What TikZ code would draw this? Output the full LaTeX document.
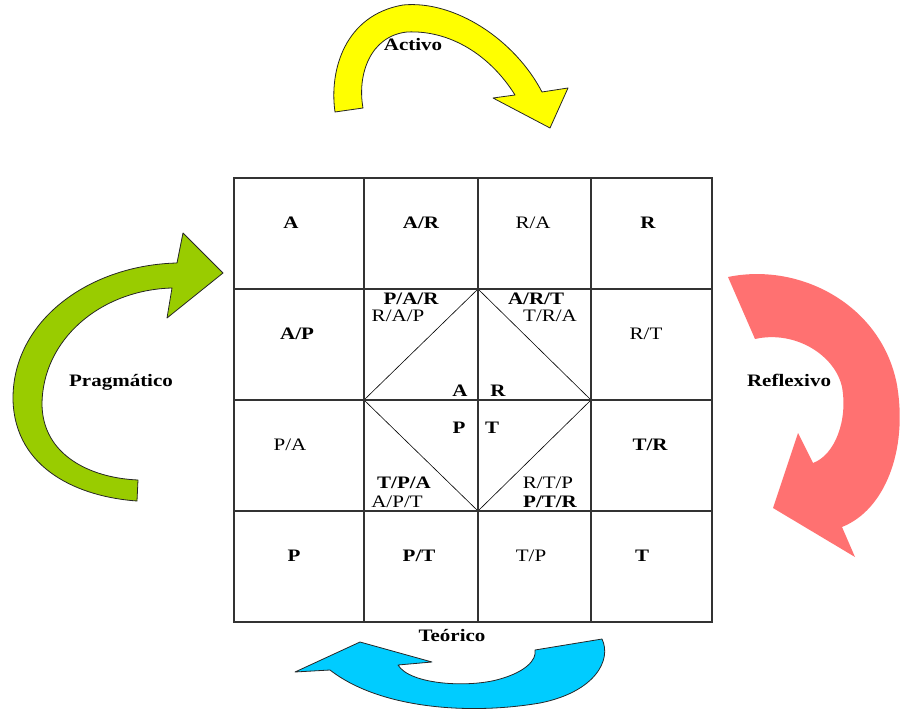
\documentclass[tikz,border=0pt]{standalone}
\usepackage{fontspec}
\setmainfont[FakeStretch=1.2]{Liberation Serif}
\tikzset{
  lbl/.style={font=\fontsize{17.5}{20}\selectfont, inner sep=0pt},
  blbl/.style={lbl, font=\fontsize{17.5}{20}\selectfont\bfseries},
  gridline/.style={draw=black!80, line width=1.1pt},
  diag/.style={draw=black, line width=0.6pt},
  arrowfill/.style={draw=black!85, line width=0.8pt, line join=round},
}
\definecolor{ayellow}{HTML}{FFFF00}
\definecolor{agreen}{HTML}{99CC00}
\definecolor{ared}{HTML}{FF7171}
\definecolor{ablue}{HTML}{00CCFF}
\begin{document}
\begin{tikzpicture}[x=1pt,y=-1pt]
\useasboundingbox (0,0) rectangle (900,711);
% ---------- grid ----------
\coordinate (g00) at (234,178);
\coordinate (g44) at (712,622);
\coordinate (dT) at (478,289);
\coordinate (dR) at (591,400);
\coordinate (dB) at (478,511);
\coordinate (dL) at (364,400);
\draw[diag] (dT) -- (dR) -- (dB) -- (dL) -- cycle;
\draw[gridline] (g00) rectangle (g44);
\foreach \x in {364,478,591} \draw[gridline] (\x,178) -- (\x,622);
\foreach \y in {289,400,511} \draw[gridline] (234,\y) -- (712,\y);
% ---------- cell texts ----------
\node[blbl] (tA)   at (291,223) {A};
\node[blbl] (tAR)  at (421,223) {A/R};
\node[lbl]  (tRA)  at (533,223) {R/A};
\node[blbl] (tR)   at (648,223) {R};
\node[blbl] (tAP)  at (297,334) {A/P};
\node[lbl]  (tRT)  at (646,334) {R/T};
\node[lbl]  (tPA)  at (290,445) {P/A};
\node[blbl] (tTR)  at (650,445) {T/R};
\node[blbl] (tP)   at (294,556) {P};
\node[blbl] (tPT)  at (419,556) {P/T};
\node[lbl]  (tTP)  at (531,556) {T/P};
\node[blbl] (tT)   at (642,556) {T};
% inner
\node[blbl] (iPAR) at (411,299) {P/A/R};
\node[lbl]  (iRAP) at (398,316) {R/A/P};
\node[blbl] (iART) at (536,299) {A/R/T};
\node[lbl]  (iTRA) at (550,316) {T/R/A};
\node[blbl] (iA)   at (460,391) {A};
\node[blbl] (iR)   at (498,391) {R};
\node[blbl] (iP)   at (459,428) {P};
\node[blbl] (iT)   at (492,428) {T};
\node[blbl] (iTPA) at (404,483) {T/P/A};
\node[lbl]  (iAPT) at (397,502) {A/P/T};
\node[lbl]  (iRTP) at (548,483) {R/T/P};
\node[blbl] (iPTR) at (550,502) {P/T/R};
% ---------- yellow arrow (Activo) ----------
\path[arrowfill, fill=ayellow]
  (335,112) .. controls (329,70) and (345,15) .. (403,5)
  .. controls (455,0) and (515,40) .. (542,92)
  -- (568,88) -- (550,128) -- (493,98) -- (515,95)
  .. controls (490,55) and (450,30) .. (407,32)
  .. controls (370,36) and (357,75) .. (363,108) -- cycle;
\node[blbl] (lAct) at (413,45) {Activo};
% ---------- green arrow (Pragmatico) ----------
\path[arrowfill, fill=agreen]
  (137,501) .. controls (80,497) and (15,470) .. (13,400)
  .. controls (12,320) and (90,265) .. (177,263)
  -- (183,233) -- (223,273) -- (167,318) -- (172,288)
  .. controls (100,290) and (42,340) .. (42,405)
  .. controls (43,455) and (90,478) .. (138,480) -- cycle;
\node[blbl] (lPrag) at (121,382) {Pragmático};
% ---------- red arrow (Reflexivo) ----------
\path[fill=ared]
  (728,277) .. controls (800,262) and (882,305) .. (897,385)
  .. controls (908,450) and (885,510) .. (842,527)
  -- (855,557) -- (773,508) -- (798,433) -- (813,463)
  .. controls (835,455) and (848,420) .. (842,387)
  .. controls (835,355) and (795,330) .. (755,339) -- cycle;
\node[blbl] (lRef) at (789,380) {Reflexivo};
% ---------- blue arrow (Teorico) ----------
\path[arrowfill, fill=ablue]
  (602,639) .. controls (612,660) and (595,692) .. (540,703)
  .. controls (470,715) and (380,709) .. (330,670)
  -- (295,672) -- (360,642) -- (432,662) -- (398,665)
  .. controls (410,685) and (470,688) .. (500,679)
  .. controls (525,672) and (537,660) .. (535,650) -- cycle;
\node[blbl] (lTeo) at (452,636) {Teórico};
\end{tikzpicture}
\end{document}
